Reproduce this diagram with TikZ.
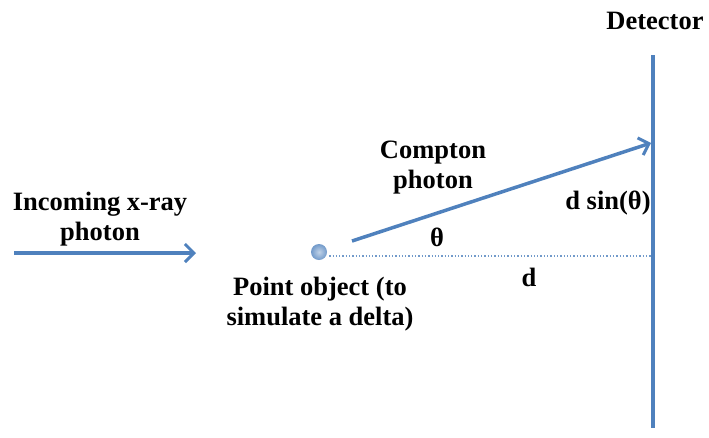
\documentclass[tikz,border=0pt]{standalone}
\usepackage{fontspec}
\setmainfont{Liberation Serif}
\usetikzlibrary{arrows.meta}
\definecolor{rayblue}{RGB}{79,129,189}

\begin{document}
\begin{tikzpicture}
		[x=1pt, y=-1pt,
		ray/.style={rayblue, line width=3.5pt, -{Straight Barb[length=9pt, width=18pt, line width=3pt]}},
		lbl/.style={font=\bfseries\fontsize{26.5}{30}\selectfont, align=center, inner sep=0pt}]
		\useasboundingbox (0,0) rectangle (709,437);
		\node[lbl] (det) at (655,21) {Detector};
		\coordinate (dtop) at (653,55);
		\coordinate (dbot) at (653,428);
		\coordinate (dhit) at (651,143);
		\coordinate (dmid) at (652,256);
		\draw[rayblue, line width=4pt] (dtop) -- (dbot);
		
		\node[lbl] (inc) at (100,219) {Incoming x-ray\\photon};
		\coordinate (istart) at (14,253);
		\coordinate (iend) at (196,253);
		\draw[ray] (istart) -- (iend);
		
		\node[circle, inner color=rayblue!35, outer color=rayblue!80, minimum size=16pt, inner sep=0pt] (obj) at (319,252) {};
		\node[lbl] (objlbl) at (320,304) {Point object (to\\simulate a delta)};
		\draw[rayblue!80, dotted, line width=1.3pt] (obj.east) ++(2,4) coordinate (dstart) -- (dmid);
		
		\coordinate (cstart) at (352,241);
		\draw[ray] (cstart) -- (dhit);
		\node[lbl] (comp) at (433,168) {Compton\\photon};
		\node[lbl] (theta) at (437,237) {θ};
		\node[lbl] (dist) at (529,277) {d};
		\node[lbl] (dsin) at (608,203) {d sin(θ)};
		\end{tikzpicture}
\end{document}
